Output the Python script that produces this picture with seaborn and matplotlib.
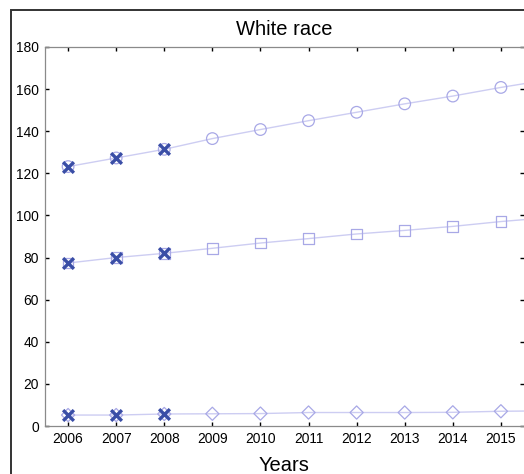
import matplotlib
matplotlib.use("Agg")
import matplotlib.pyplot as plt
import seaborn as sns
import pandas as pd
from matplotlib.patches import Rectangle

years = [2006, 2007, 2008, 2009, 2010, 2011, 2012, 2013, 2014, 2015, 2016]
circle_vals = [123.2, 127.3, 131.4, 136.5, 140.8, 145.0, 149.0, 153.0, 156.7, 160.8, 164.5]
square_vals = [77.4, 80.0, 82.0, 84.4, 86.9, 89.0, 91.2, 92.9, 94.8, 97.1, 99.0]
diamond_vals = [5.2, 5.2, 5.7, 5.8, 5.9, 6.4, 6.4, 6.4, 6.5, 7.0, 7.2]
observed_years = [2006, 2007, 2008]
year_ticks = [2006, 2007, 2008, 2009, 2010, 2011, 2012, 2013, 2014, 2015]
y_ticks = [0, 20, 40, 60, 80, 100, 120, 140, 160, 180]

sns.set_style("white")
plt.rcParams['font.family'] = ['Liberation Sans', 'DejaVu Sans']
plt.rcParams['text.color'] = 'black'
plt.rcParams['axes.labelcolor'] = 'black'

series = {"circle": (circle_vals, "o"), "square": (square_vals, "s"), "diamond": (diamond_vals, "D")}
rows = []
for name, (vals, m) in series.items():
    for y, v in zip(years, vals):
        rows.append({"year": y, "value": v, "series": name})
df = pd.DataFrame(rows)

fig = plt.figure(figsize=(5.24, 4.74), dpi=100)
ax = fig.add_axes([45 / 524, 1 - 426 / 474, (523.5 - 45) / 524, (426 - 47) / 474])

line_col = "#cdcdf2"
mark_col = "#a8a8e6"
x_col = "#3a4ea6"

sns.lineplot(data=df, x="year", y="value", units="series", estimator=None,
             color=line_col, linewidth=1.0, ax=ax, legend=False, zorder=2)
msizes = {"o": 70, "s": 60, "D": 45}
for name, (vals, m) in series.items():
    sub = df[df.series == name]
    sns.scatterplot(data=sub, x="year", y="value", marker=m, s=msizes[m],
                    facecolor="none", edgecolor=mark_col, linewidth=0.9,
                    ax=ax, legend=False, zorder=3)
obs = df[df.year.isin(observed_years)]
sns.scatterplot(data=obs, x="year", y="value", marker="x", s=60, color=x_col,
                linewidth=2.4, ax=ax, legend=False, zorder=4)

ax.set_xlim(2005.52, 2015.47)
ax.set_ylim(0, 180)
ax.set_xticks(year_ticks)
ax.set_xticklabels([str(y) for y in year_ticks])
ax.set_yticks(y_ticks)
ax.tick_params(direction="in", length=3, width=1, colors="black", labelsize=9.9,
               top=True, right=True, bottom=True, left=True, pad=4.5)
for sp in ax.spines.values():
    sp.set_color("#8a8a8a")
    sp.set_linewidth(0.9)
ax.spines["right"].set_visible(False)

ax.set_xlabel("Years", fontsize=14.5, labelpad=7, color="black")
ax.set_ylabel("")
ax.set_title("White race", fontsize=14.5, pad=8.5, color="black")

fig.patches.append(Rectangle((11 / 524, -0.1), 1.2, (474 - 10) / 474 + 0.1,
                             transform=fig.transFigure, fill=False,
                             edgecolor="#333333", linewidth=1.4, zorder=10))

fig.savefig("out.png", dpi=100)
